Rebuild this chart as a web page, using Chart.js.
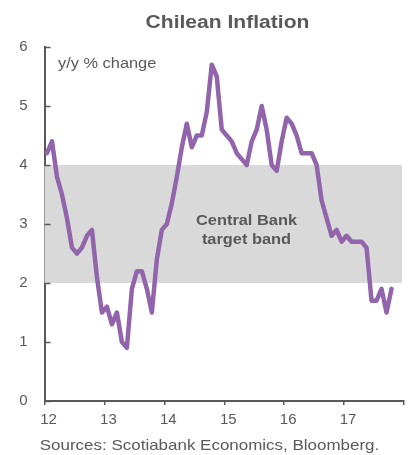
<!DOCTYPE html>
<html>
<head>
<meta charset="utf-8">
<script src="https://cdn.jsdelivr.net/npm/chart.js@4/dist/chart.umd.min.js"></script>
<style>
  body { margin: 0; background: #fff; }
  #wrap { width: 410px; height: 455px; position: relative; }
</style>
</head>
<body>
<div id="wrap"><canvas id="inflation-chart"></canvas></div>
<script>
// chilean cpi, y/y %, monthly Jan 2012 -> Oct 2017
const inflation = [
    4.2, 4.4, 3.8, 3.5, 3.1, 2.6, 2.5, 2.6, 2.8, 2.9, 2.1, 1.5,
    1.6, 1.3, 1.5, 1.0, 0.9, 1.9, 2.2, 2.2, 1.9, 1.5, 2.4, 2.9,
    3.0, 3.35, 3.8, 4.3, 4.7, 4.3, 4.5, 4.5, 4.9, 5.7, 5.5, 4.6,
    4.5, 4.4, 4.2, 4.1, 4.0, 4.4, 4.6, 5.0, 4.6, 4.0, 3.9, 4.4,
    4.8, 4.7, 4.5, 4.2, 4.2, 4.2, 4.0, 3.4, 3.1, 2.8, 2.9, 2.7,
    2.8, 2.7, 2.7, 2.7, 2.6, 1.7, 1.7, 1.9, 1.5, 1.9
];
const startYear = 12;
const yearTicks = [12, 13, 14, 15, 16, 17];
const yTicks = [0, 1, 2, 3, 4, 5, 6];
const bandLow = 2;
const bandHigh = 4;

const FONT = '"Liberation Sans", Arial, sans-serif';
const GREY = '#595959';

// month i sits in the middle of its month on the year axis
const points = inflation.map((v, i) => ({ x: startYear + (i + 0.5) / 12, y: v }));

function stretchText(ctx, text, x, y, font, align) {
    ctx.save();
    ctx.translate(x, y);
    ctx.scale(1.17, 1);
    ctx.font = font;
    ctx.fillStyle = GREY;
    ctx.textAlign = align || 'center';
    ctx.textBaseline = 'middle';
    ctx.fillText(text, 0, 0);
    ctx.restore();
}

// grey target band behind the line
const bandPlugin = {
    id: 'band',
    beforeDatasetsDraw(chart) {
        const { ctx, chartArea, scales } = chart;
        const top = scales.y.getPixelForValue(bandHigh);
        const bottom = scales.y.getPixelForValue(bandLow);
        ctx.save();
        ctx.fillStyle = '#D9D9DA';
        ctx.fillRect(chartArea.left, top, chartArea.right - 2 - chartArea.left, bottom - top);
        ctx.restore();
    }
};

// inward y ticks + all the free text
const textPlugin = {
    id: 'texts',
    afterDraw(chart) {
        const { ctx, chartArea, scales } = chart;
        ctx.save();
        ctx.strokeStyle = GREY;
        ctx.lineWidth = 1.5;
        yTicks.forEach(v => {
            const py = Math.round(scales.y.getPixelForValue(v)) + 0.5;
            ctx.beginPath();
            ctx.moveTo(chartArea.left, py);
            ctx.lineTo(chartArea.left + 6, py);
            ctx.stroke();
        });
        ctx.restore();

        stretchText(ctx, 'Chilean Inflation', 227.5, 23.5, 'bold 18px ' + FONT);
        stretchText(ctx, 'y/y % change', 58, 64, '14px ' + FONT, 'left');
        stretchText(ctx, 'Central Bank', 246.5, 221.5, 'bold 14px ' + FONT);
        stretchText(ctx, 'target band', 246.5, 240.5, 'bold 14px ' + FONT);
        stretchText(ctx, 'Sources: Scotiabank Economics, Bloomberg.', 209.5, 446, '14.5px ' + FONT);
    }
};

const data = {
    datasets: [{
        label: 'Chilean inflation',
        data: points,
        borderColor: '#9164AC',
        borderWidth: 4.5,
        pointRadius: 0,
        tension: 0,
        borderJoinStyle: 'round',
        borderCapStyle: 'round'
    }]
};

const options = {
    animation: false,
    responsive: true,
    maintainAspectRatio: false,
    layout: { padding: { left: 0, right: 5.5, top: 47, bottom: 0 } },
    plugins: {
        legend: { display: false },
        tooltip: { enabled: false }
    },
    scales: {
        x: {
            type: 'linear',
            min: 12,
            max: 18,
            afterBuildTicks: s => { s.ticks = yearTicks.concat([18]).map(v => ({ value: v })); },
            afterFit: s => { s.height = 54; },
            grid: { drawOnChartArea: false, drawTicks: true, tickLength: 4, color: GREY, lineWidth: 1.5 },
            border: { display: true, color: GREY, width: 2 },
            ticks: {
                color: GREY,
                font: { family: FONT, size: 15 },
                padding: 6,
                labelOffset: 4,
                maxRotation: 0,
                callback: v => (v === 18 ? '' : String(v))
            }
        },
        y: {
            min: 0,
            max: 6,
            afterBuildTicks: s => { s.ticks = yTicks.map(v => ({ value: v })); },
            afterFit: s => { s.width = 44.5; },
            grid: { display: false, drawTicks: false },
            border: { display: true, color: GREY, width: 2 },
            ticks: {
                color: GREY,
                font: { family: FONT, size: 15 },
                padding: 17
            }
        }
    }
};

let chartElement = document.getElementById('inflation-chart').getContext('2d');
let inflationChart = new Chart(chartElement, {
    type: 'line',
    data: data,
    options: options,
    plugins: [bandPlugin, textPlugin]
});
</script>
</body>
</html>
